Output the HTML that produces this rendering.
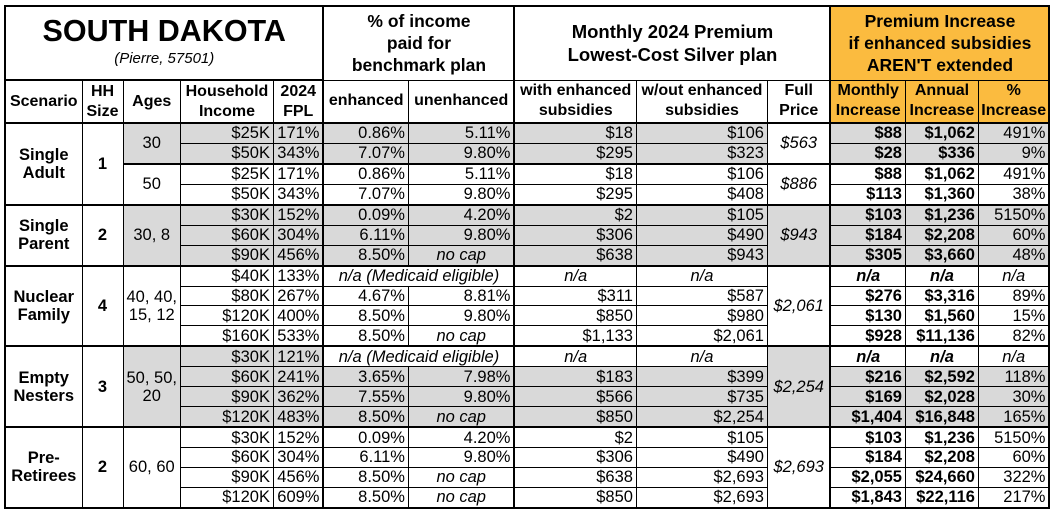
<!DOCTYPE html>
<html><head><meta charset="utf-8">
<style>
html,body{margin:0;padding:0;background:#fff;width:1053px;height:512px;overflow:hidden}
table{position:absolute;left:4px;top:5px;border-collapse:collapse;table-layout:fixed;font-family:"Liberation Sans",Arial,sans-serif;font-size:16.5px;color:#000}
td{border:1px solid #000;padding:0 3px;white-space:nowrap;overflow:hidden;line-height:18px}
tr.d td{height:18.95px}
.r{text-align:right}
.c{text-align:center}
.b{font-weight:bold}
.i{font-style:italic}
.g{background:#d9d9d9}
.o{background:#fbbb3f}
.h td{font-weight:bold;text-align:center;font-size:16px;line-height:20px;padding:0 2px}
.tt{border-bottom:2px solid #000}
.tk td{border-top:2px solid #000}
.L{border-left:2px solid #000}
.R{border-right:2px solid #000}
</style></head><body>
<table>
<colgroup>
<col style="width:77px"><col style="width:41px"><col style="width:57px"><col style="width:93px"><col style="width:50px"><col style="width:85px"><col style="width:106px"><col style="width:122px"><col style="width:131px"><col style="width:63px"><col style="width:75px"><col style="width:73px"><col style="width:71px">
</colgroup>
<tr style="height:74px">
<td colspan="5" class="c tt L" style="border-top:2px solid #000;line-height:normal"><div style="font-size:30.5px;font-weight:bold;line-height:36px">SOUTH DAKOTA</div><div style="font-size:15px;font-style:italic;line-height:20px;padding-bottom:4px">(Pierre, 57501)</div></td>
<td colspan="2" class="c b L" style="border-top:2px solid #000;font-size:17.5px;line-height:22px">% of income<br>paid for<br>benchmark plan</td>
<td colspan="3" class="c b L" style="border-top:2px solid #000;font-size:18.5px;line-height:23px">Monthly 2024 Premium<br>Lowest-Cost Silver plan</td>
<td colspan="3" class="c b o L R" style="border-top:2px solid #000;font-size:17.5px;line-height:22px">Premium Increase<br>if enhanced subsidies<br>AREN'T extended</td>
</tr>
<tr class="h" style="height:43px">
<td class="L">Scenario</td><td>HH<br>Size</td><td>Ages</td><td>Household<br>Income</td><td>2024<br>FPL</td><td class="L">enhanced</td><td>unenhanced</td><td class="L">with enhanced<br>subsidies</td><td>w/out enhanced<br>subsidies</td><td>Full<br>Price</td><td class="o L">Monthly<br>Increase</td><td class="o">Annual<br>Increase</td><td class="o R">%<br>Increase</td>
</tr>
<!-- Single Adult -->
<tr class="d tk"><td rowspan="4" class="c b L">Single<br>Adult</td><td rowspan="4" class="c b">1</td><td rowspan="2" class="c g">30</td><td class="r g">$25K</td><td class="r g">171%</td><td class="r g L">0.86%</td><td class="r g">5.11%</td><td class="r g L">$18</td><td class="r g">$106</td><td rowspan="2" class="c i">$563</td><td class="r b g L">$88</td><td class="r b g">$1,062</td><td class="r g R">491%</td></tr>
<tr class="d"><td class="r g">$50K</td><td class="r g">343%</td><td class="r g L">7.07%</td><td class="r g">9.80%</td><td class="r g L">$295</td><td class="r g">$323</td><td class="r b g L">$28</td><td class="r b g">$336</td><td class="r g R">9%</td></tr>
<tr class="d tk"><td rowspan="2" class="c">50</td><td class="r">$25K</td><td class="r">171%</td><td class="r L">0.86%</td><td class="r">5.11%</td><td class="r L">$18</td><td class="r">$106</td><td rowspan="2" class="c i">$886</td><td class="r b L">$88</td><td class="r b">$1,062</td><td class="r R">491%</td></tr>
<tr class="d"><td class="r">$50K</td><td class="r">343%</td><td class="r L">7.07%</td><td class="r">9.80%</td><td class="r L">$295</td><td class="r">$408</td><td class="r b L">$113</td><td class="r b">$1,360</td><td class="r R">38%</td></tr>
<!-- Single Parent -->
<tr class="d tk"><td rowspan="3" class="c b L">Single<br>Parent</td><td rowspan="3" class="c b">2</td><td rowspan="3" class="c g">30, 8</td><td class="r g">$30K</td><td class="r g">152%</td><td class="r g L">0.09%</td><td class="r g">4.20%</td><td class="r g L">$2</td><td class="r g">$105</td><td rowspan="3" class="c i g">$943</td><td class="r b g L">$103</td><td class="r b g">$1,236</td><td class="r g R">5150%</td></tr>
<tr class="d"><td class="r g">$60K</td><td class="r g">304%</td><td class="r g L">6.11%</td><td class="r g">9.80%</td><td class="r g L">$306</td><td class="r g">$490</td><td class="r b g L">$184</td><td class="r b g">$2,208</td><td class="r g R">60%</td></tr>
<tr class="d"><td class="r g">$90K</td><td class="r g">456%</td><td class="r g L">8.50%</td><td class="c i g">no cap</td><td class="r g L">$638</td><td class="r g">$943</td><td class="r b g L">$305</td><td class="r b g">$3,660</td><td class="r g R">48%</td></tr>
<!-- Nuclear Family -->
<tr class="d tk"><td rowspan="4" class="c b L">Nuclear<br>Family</td><td rowspan="4" class="c b">4</td><td rowspan="4" class="c">40, 40,<br>15, 12</td><td class="r">$40K</td><td class="r">133%</td><td colspan="2" class="c i L">n/a (Medicaid eligible)</td><td class="c i L">n/a</td><td class="c i">n/a</td><td rowspan="4" class="c i">$2,061</td><td class="c b i L">n/a</td><td class="c b i">n/a</td><td class="c i R">n/a</td></tr>
<tr class="d"><td class="r">$80K</td><td class="r">267%</td><td class="r L">4.67%</td><td class="r">8.81%</td><td class="r L">$311</td><td class="r">$587</td><td class="r b L">$276</td><td class="r b">$3,316</td><td class="r R">89%</td></tr>
<tr class="d"><td class="r">$120K</td><td class="r">400%</td><td class="r L">8.50%</td><td class="r">9.80%</td><td class="r L">$850</td><td class="r">$980</td><td class="r b L">$130</td><td class="r b">$1,560</td><td class="r R">15%</td></tr>
<tr class="d"><td class="r">$160K</td><td class="r">533%</td><td class="r L">8.50%</td><td class="c i">no cap</td><td class="r L">$1,133</td><td class="r">$2,061</td><td class="r b L">$928</td><td class="r b">$11,136</td><td class="r R">82%</td></tr>
<!-- Empty Nesters -->
<tr class="d tk"><td rowspan="4" class="c b L">Empty<br>Nesters</td><td rowspan="4" class="c b">3</td><td rowspan="4" class="c g">50, 50,<br>20</td><td class="r g">$30K</td><td class="r g">121%</td><td colspan="2" class="c i L">n/a (Medicaid eligible)</td><td class="c i L">n/a</td><td class="c i">n/a</td><td rowspan="4" class="c i g">$2,254</td><td class="c b i L">n/a</td><td class="c b i">n/a</td><td class="c i R">n/a</td></tr>
<tr class="d"><td class="r g">$60K</td><td class="r g">241%</td><td class="r g L">3.65%</td><td class="r g">7.98%</td><td class="r g L">$183</td><td class="r g">$399</td><td class="r b g L">$216</td><td class="r b g">$2,592</td><td class="r g R">118%</td></tr>
<tr class="d"><td class="r g">$90K</td><td class="r g">362%</td><td class="r g L">7.55%</td><td class="r g">9.80%</td><td class="r g L">$566</td><td class="r g">$735</td><td class="r b g L">$169</td><td class="r b g">$2,028</td><td class="r g R">30%</td></tr>
<tr class="d"><td class="r g">$120K</td><td class="r g">483%</td><td class="r g L">8.50%</td><td class="c i g">no cap</td><td class="r g L">$850</td><td class="r g">$2,254</td><td class="r b g L">$1,404</td><td class="r b g">$16,848</td><td class="r g R">165%</td></tr>
<!-- Pre-Retirees -->
<tr class="d tk"><td rowspan="4" class="c b L" style="border-bottom:2px solid #000">Pre-<br>Retirees</td><td rowspan="4" class="c b" style="border-bottom:2px solid #000">2</td><td rowspan="4" class="c" style="border-bottom:2px solid #000">60, 60</td><td class="r">$30K</td><td class="r">152%</td><td class="r L">0.09%</td><td class="r">4.20%</td><td class="r L">$2</td><td class="r">$105</td><td rowspan="4" class="c i" style="border-bottom:2px solid #000">$2,693</td><td class="r b L">$103</td><td class="r b">$1,236</td><td class="r R">5150%</td></tr>
<tr class="d"><td class="r">$60K</td><td class="r">304%</td><td class="r L">6.11%</td><td class="r">9.80%</td><td class="r L">$306</td><td class="r">$490</td><td class="r b L">$184</td><td class="r b">$2,208</td><td class="r R">60%</td></tr>
<tr class="d"><td class="r">$90K</td><td class="r">456%</td><td class="r L">8.50%</td><td class="c i">no cap</td><td class="r L">$638</td><td class="r">$2,693</td><td class="r b L">$2,055</td><td class="r b">$24,660</td><td class="r R">322%</td></tr>
<tr class="d" style="border-bottom:2px solid #000"><td class="r">$120K</td><td class="r">609%</td><td class="r L">8.50%</td><td class="c i">no cap</td><td class="r L">$850</td><td class="r">$2,693</td><td class="r b L">$1,843</td><td class="r b">$22,116</td><td class="r R">217%</td></tr>
</table>
</body></html>
